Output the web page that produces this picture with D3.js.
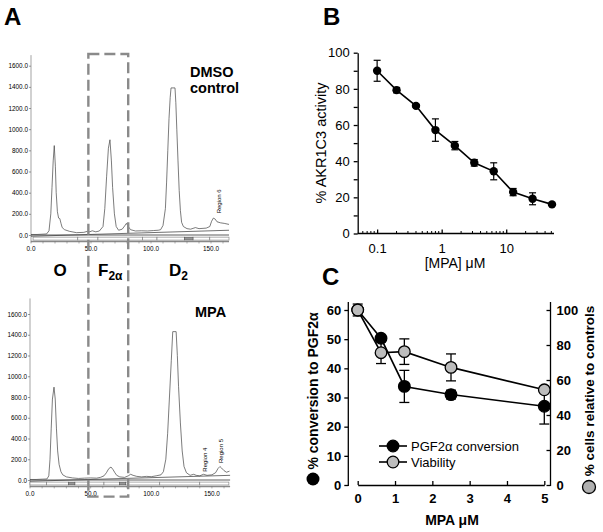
<!DOCTYPE html>
<html><head><meta charset="utf-8">
<script src="https://cdn.jsdelivr.net/npm/d3@7"></script>
<style>
body{margin:0;background:#fff}
svg{display:block}
text{font-family:Arial,'Liberation Sans',sans-serif;fill:#000}
.tiny text, text.tiny{font-family:'Liberation Sans Narrow','Arial Narrow',Arial,sans-serif}
</style>
</head><body>
<svg id="c" width="603" height="532"></svg>
<script>
// ---------------- Panel A data (chromatograms) ----------------
const chromTicksY = [0, 200, 400, 600, 800, 1000, 1200, 1400, 1600];
const chromTicksX = [0, 50, 100, 150];
const dmsoTrace = [[0,5],[5,5],[10,8],[13,10],[15,40],[16.5,200],[17.5,450],[18.5,700],[19.4,845],[20.3,650],[21,400],[22,220],[23,160],[24,155],[25,110],[26,70],[28,50],[32,35],[38,22],[44,25],[47,35],[49,30],[51,40],[54,30],[57,38],[60,80],[61.5,250],[63,550],[64.5,820],[65.8,900],[67,700],[68,450],[69.5,200],[71,80],[73,45],[76,55],[78,85],[79.5,110],[81,80],[83,50],[87,38],[92,40],[97,38],[102,42],[106,45],[108,50],[110,90],[112,250],[113,500],[114,800],[115,1100],[116,1300],[116.7,1390],[120,1390],[120.7,1250],[121.5,1000],[122.5,700],[123.5,420],[124.5,230],[125.5,120],[127,80],[130,60],[133,55],[137,70],[140,60],[146,65],[149,80],[150.5,130],[152,160],[153.5,150],[155,125],[158,115],[161,110],[165,100]];
const mpaTrace = [[0,5],[5,5],[10,8],[14,10],[15.5,40],[16.5,200],[17.5,500],[18.5,780],[19.8,895],[20.8,780],[21.8,500],[22.8,280],[24,150],[25.5,80],[27,50],[30,30],[35,20],[40,15],[45,18],[50,20],[55,18],[58,25],[61,40],[63,70],[65,110],[66.8,125],[68.5,100],[70,70],[71.5,45],[74,30],[78,25],[81,40],[83,55],[85,45],[88,35],[92,30],[96,35],[100,32],[104,40],[108,50],[110,80],[112,200],[113.5,450],[115,800],[116.5,1150],[117.7,1430],[120.5,1430],[121.5,1200],[122.5,900],[124,550],[125.5,280],[127,130],[129,70],[132,45],[135,55],[137,45],[140,40],[143,55],[146,45],[150,50],[153,70],[155,110],[156.6,130],[158,115],[160,90],[162,75],[164.5,85]];
const dmsoBars = [[1.7,39],[39,55.8],[55.8,93],[93,105],[105,128],[128,135],[135,149],[149,165]];
const mpaBars = [[0,13.7],[13.7,31.6],[31.6,37],[37,61],[61,74],[74,79],[79,107],[107,140],[140,164]];
const dmsoFilled = [[128,135]];
const mpaFilled = [[31.6,37],[74,79]];
const dmsoRegionLabels = [{name:"Region 6", t:157, v:205}];
const mpaRegionLabels = [{name:"Region 4", t:144.3, v:80},{name:"Region 5", t:157.2, v:164}];
const f2aWindow = [47.8, 81];

// ---------------- Panel B data ----------------
const mpaConc = [0.1, 0.2, 0.4, 0.8, 1.6, 3.2, 6.4, 12.8, 25.6, 51.2];
const akrActivity = [90, 79.3, 70.6, 57.2, 48.6, 39.1, 34.4, 22.9, 19.2, 16.1];
const akrErr = [5.8, 1.5, 0.8, 6.2, 2.3, 1.8, 4.7, 2.0, 3.3, 0.5];
const bTicksY = [0,10,20,30,40,50,60,70,80,90,100];
const bTicksX = [0.1, 1, 10];
const bMinorX = [0.06,0.07,0.08,0.09,0.2,0.3,0.4,0.5,0.6,0.7,0.8,0.9,2,3,4,5,6,7,8,9,20,30,40,50];

// ---------------- Panel C data ----------------
const cDose = [0, 0.625, 1.25, 2.5, 5];
const conversion = [60, 50.3, 33.8, 31.0, 27.0];
const conversionErr = [1.2, 1.0, 5.5, 1.5, 6.1];
const viability = [100, 75.6, 76.2, 67.2, 54.4];
const viabilityErr = [3.4, 6.2, 7.3, 7.7, 1.0];
const cTicksX = [0,1,2,3,4,5];
const cTicksL = [0,10,20,30,40,50,60];
const cTicksR = [0,20,40,60,80,100];

const svg = d3.select("#c");
const FONT = "Arial,'Liberation Sans',sans-serif";

// ================= Panel A =================
function chrom(trace, bars, filled, labels, xr, y0, y1600, axisTopVal) {
  const x = d3.scaleLinear().domain([0,165]).range(xr);
  const y = d3.scaleLinear().domain([0,1600]).range([y0, y1600]);
  const g = svg.append("g");
  const ay = g.append("g").attr("transform", `translate(${xr[0]},0)`).attr("class","tiny")
    .call(d3.axisLeft(y).tickValues(chromTicksY).tickFormat(d=>d.toFixed(1)).tickSize(2).tickPadding(1));
  ay.select(".domain").remove();
  ay.selectAll("line").attr("stroke","#555").attr("stroke-width",0.6);
  ay.selectAll("text").attr("font-size",6.4).attr("fill","#333");
  g.append("line").attr("x1",x(0)).attr("x2",x(0)).attr("y1",y(axisTopVal)).attr("y2",y(-70))
    .attr("stroke","#666").attr("stroke-width",0.6);
  g.selectAll("text.xl").data(chromTicksX).join("text").attr("class","tiny")
    .attr("x",d=>x(d)).attr("y",y(-70)+9).attr("text-anchor","middle")
    .attr("font-size",6.4).attr("fill","#333").text(d=>d.toFixed(1));
  g.selectAll("rect.bar").data(bars).join("rect")
    .attr("x",d=>x(d[0])).attr("width",d=>x(d[1])-x(d[0]))
    .attr("y",y(-20)).attr("height",y(-48)-y(-20))
    .attr("fill","#fff").attr("stroke","#777").attr("stroke-width",0.6);
  g.selectAll("rect.fill").data(filled).join("rect")
    .attr("x",d=>x(d[0])).attr("width",d=>x(d[1])-x(d[0]))
    .attr("y",y(-22)).attr("height",y(-46)-y(-22))
    .attr("fill","#999").attr("stroke","#555").attr("stroke-width",0.5);
  g.append("line").attr("x1",x(0)).attr("x2",x(165)).attr("y1",y(-62)).attr("y2",y(-62))
    .attr("stroke","#888").attr("stroke-width",1.4);
  g.selectAll("line.xt").data(d3.range(0,170,10)).join("line")
    .attr("x1",d=>x(d)).attr("x2",d=>x(d)).attr("y1",y(-62)).attr("y2",y(-62)+2)
    .attr("stroke","#666").attr("stroke-width",0.5);
  g.append("line").attr("x1",x(0)).attr("x2",x(165)).attr("y1",y(0)).attr("y2",y(0))
    .attr("stroke","#333").attr("stroke-width",0.8);
  g.append("line").attr("x1",x(0)).attr("x2",x(165)).attr("y1",y(-12)).attr("y2",y(45))
    .attr("stroke","#333").attr("stroke-width",0.7);
  g.append("path").datum(trace)
    .attr("d", d3.line().x(d=>x(d[0])).y(d=>y(d[1])))
    .attr("fill","none").attr("stroke","#444").attr("stroke-width",0.7);
  labels.forEach(l=>{
    g.append("text").attr("class","tiny").attr("transform",`translate(${x(l.t)+2},${y(l.v)}) rotate(-90)`)
      .attr("font-size",6).attr("fill","#222").text(l.name);
  });
  return {x,y};
}

const chromTop = chrom(dmsoTrace, dmsoBars, dmsoFilled, dmsoRegionLabels, [31, 229], 235, 65.7, 1700);
const chromBot = chrom(mpaTrace, mpaBars, mpaFilled, mpaRegionLabels, [30, 230.1], 480, 314, 1750);

svg.append("rect")
  .attr("x", chromTop.x(f2aWindow[0])).attr("y", chromTop.y(1710))
  .attr("width", chromTop.x(f2aWindow[1]) - chromTop.x(f2aWindow[0]))
  .attr("height", chromBot.y(-160) - chromTop.y(1710))
  .attr("fill","none").attr("stroke","#8a8a8a").attr("stroke-width",2.4)
  .attr("stroke-dasharray","11,5");

svg.append("text").attr("x",4).attr("y",25).attr("font-size",24).attr("font-weight","bold").text("A");
svg.append("text").attr("x",190).attr("y",77).attr("font-size",14.5).attr("font-weight","bold").text("DMSO");
svg.append("text").attr("x",190).attr("y",93).attr("font-size",14.5).attr("font-weight","bold").text("control");
svg.append("text").attr("x",195).attr("y",317).attr("font-size",14.5).attr("font-weight","bold").text("MPA");
svg.append("text").attr("x",60).attr("y",276).attr("text-anchor","middle").attr("font-size",17).attr("font-weight","bold").text("O");
const f2 = svg.append("text").attr("x",98).attr("y",276).attr("font-size",17).attr("font-weight","bold");
f2.append("tspan").text("F");
f2.append("tspan").attr("font-size",12).attr("dy",4).text("2α");
const d2 = svg.append("text").attr("x",169).attr("y",276).attr("font-size",17).attr("font-weight","bold");
d2.append("tspan").text("D");
d2.append("tspan").attr("font-size",12).attr("dy",4).text("2");

// ================= Panel B =================
const xB = d3.scaleLog().domain([0.05, 51.2]).range([357.7, 552]);
const yB = d3.scaleLinear().domain([0, 100]).range([233.5, 52.7]);
const gB = svg.append("g");
const ayB = gB.append("g").attr("transform",`translate(${xB.range()[0]},0)`)
  .call(d3.axisLeft(yB).tickValues(bTicksY).tickFormat(d=>d%20===0?d:"").tickSizeInner(4).tickSizeOuter(0).tickPadding(4));
ayB.selectAll("text").attr("font-size",13).attr("font-family",FONT);
ayB.selectAll("line,path").attr("stroke","#000").attr("stroke-width",1.3);
const axB = gB.append("g").attr("transform",`translate(0,${yB(0)})`)
  .call(d3.axisBottom(xB).tickValues(bTicksX).tickFormat(d=>d).tickSizeInner(-4).tickSizeOuter(0).tickPadding(10));
axB.selectAll("text").attr("font-size",13).attr("font-family",FONT);
axB.selectAll("line,path").attr("stroke","#000").attr("stroke-width",1.3);
axB.select(".domain").attr("d",`M${xB.range()[0]},0H${xB.range()[1]+2}`);
gB.selectAll("line.minor").data(bMinorX).join("line")
  .attr("x1",d=>xB(d)).attr("x2",d=>xB(d)).attr("y1",yB(0)).attr("y2",yB(0)-2.5)
  .attr("stroke","#000").attr("stroke-width",1);
gB.append("path").datum(mpaConc.map((c,i)=>[c,akrActivity[i]]))
  .attr("d",d3.line().x(d=>xB(d[0])).y(d=>yB(d[1])))
  .attr("fill","none").attr("stroke","#000").attr("stroke-width",1.6);
mpaConc.forEach((c,i)=>{
  const cx = xB(c), e = akrErr[i], v = akrActivity[i];
  gB.append("line").attr("x1",cx).attr("x2",cx).attr("y1",yB(v+e)).attr("y2",yB(v-e)).attr("stroke","#000").attr("stroke-width",1.2);
  [v+e, v-e].forEach(t=>gB.append("line").attr("x1",cx-3.5).attr("x2",cx+3.5).attr("y1",yB(t)).attr("y2",yB(t)).attr("stroke","#000").attr("stroke-width",1.2));
});
gB.selectAll("circle").data(mpaConc).join("circle")
  .attr("cx",d=>xB(d)).attr("cy",(d,i)=>yB(akrActivity[i])).attr("r",4.2).attr("fill","#000");
svg.append("text").attr("x",323).attr("y",25).attr("font-size",24).attr("font-weight","bold").text("B");
svg.append("text").attr("transform","translate(326,143) rotate(-90)").attr("text-anchor","middle")
  .attr("font-size",14.5).text("% AKR1C3 activity");
svg.append("text").attr("x",455).attr("y",268).attr("text-anchor","middle").attr("font-size",14).text("[MPA] μM");

// ================= Panel C =================
const xC = d3.scaleLinear().domain([0,5]).range([357.7, 544.3]);
const yCL = d3.scaleLinear().domain([0,60]).range([485, 310]);
const yCR = d3.scaleLinear().domain([0,100]).range([485, 310]);
const gC = svg.append("g");
const ayL = gC.append("g").attr("transform","translate(348.3,0)")
  .call(d3.axisLeft(yCL).tickValues(cTicksL).tickFormat(d3.format("d")).tickSizeInner(4).tickSizeOuter(0).tickPadding(3));
ayL.select(".domain").attr("d","M0,302V486");
const ayR = gC.append("g").attr("transform","translate(550.5,0)")
  .call(d3.axisRight(yCR).tickValues(cTicksR).tickFormat(d3.format("d")).tickSizeInner(-4).tickSizeOuter(0).tickPadding(6));
ayR.select(".domain").attr("d","M0,302V486");
const axC = gC.append("g").attr("transform",`translate(0,485)`)
  .call(d3.axisBottom(xC).tickValues(cTicksX).tickFormat(d3.format("d")).tickSizeInner(-4).tickSizeOuter(0).tickPadding(9));
[ayL,ayR,axC].forEach(a=>{
  a.selectAll("text").attr("font-size",13).attr("font-weight","bold").attr("font-family",FONT);
  a.selectAll("line,path").attr("stroke","#000").attr("stroke-width",1.3);
});
function series(vals, errs, scale, fill) {
  gC.append("path").datum(cDose.map((d,i)=>[d,vals[i]]))
    .attr("d",d3.line().x(d=>xC(d[0])).y(d=>scale(d[1])))
    .attr("fill","none").attr("stroke","#000").attr("stroke-width",1.6);
  cDose.forEach((d,i)=>{
    const cx=xC(d), v=vals[i], e=errs[i];
    gC.append("line").attr("x1",cx).attr("x2",cx).attr("y1",scale(v+e)).attr("y2",scale(v-e)).attr("stroke","#000").attr("stroke-width",1.3);
    [v+e,v-e].forEach(t=>gC.append("line").attr("x1",cx-5).attr("x2",cx+5).attr("y1",scale(t)).attr("y2",scale(t)).attr("stroke","#000").attr("stroke-width",1.3));
  });
  gC.selectAll(null).data(cDose).join("circle")
    .attr("cx",d=>xC(d)).attr("cy",(d,i)=>scale(vals[i])).attr("r",5.8)
    .attr("fill",fill).attr("stroke","#000").attr("stroke-width",1.3);
}
series(conversion, conversionErr, yCL, "#000");
series(viability, viabilityErr, yCR, "#bdbdbd");
[["PGF2α conversion","#000",446],["Viability","#bdbdbd",462]].forEach(([t,f,yy])=>{
  gC.append("line").attr("x1",379).attr("x2",407).attr("y1",yy).attr("y2",yy).attr("stroke","#000").attr("stroke-width",1.6);
  gC.append("circle").attr("cx",393).attr("cy",yy).attr("r",5.8).attr("fill",f).attr("stroke","#000").attr("stroke-width",1.3);
  gC.append("text").attr("x",411).attr("y",yy+4.5).attr("font-size",13).text(t);
});
svg.append("text").attr("x",322).attr("y",285).attr("font-size",24).attr("font-weight","bold").text("C");
svg.append("text").attr("transform","translate(318,391) rotate(-90)").attr("text-anchor","middle")
  .attr("font-size",14).attr("font-weight","bold").text("% conversion to PGF2α");
svg.append("circle").attr("cx",313).attr("cy",479).attr("r",6.5).attr("fill","#000");
svg.append("text").attr("transform","translate(594,391) rotate(-90)").attr("text-anchor","middle")
  .attr("font-size",13.5).attr("font-weight","bold").text("% cells relative to controls");
svg.append("circle").attr("cx",589).attr("cy",487).attr("r",6.5).attr("fill","#b0b0b0").attr("stroke","#000").attr("stroke-width",1.3);
svg.append("text").attr("x",452).attr("y",525).attr("text-anchor","middle").attr("font-size",14).attr("font-weight","bold").text("MPA μM");
</script>
</body></html>
